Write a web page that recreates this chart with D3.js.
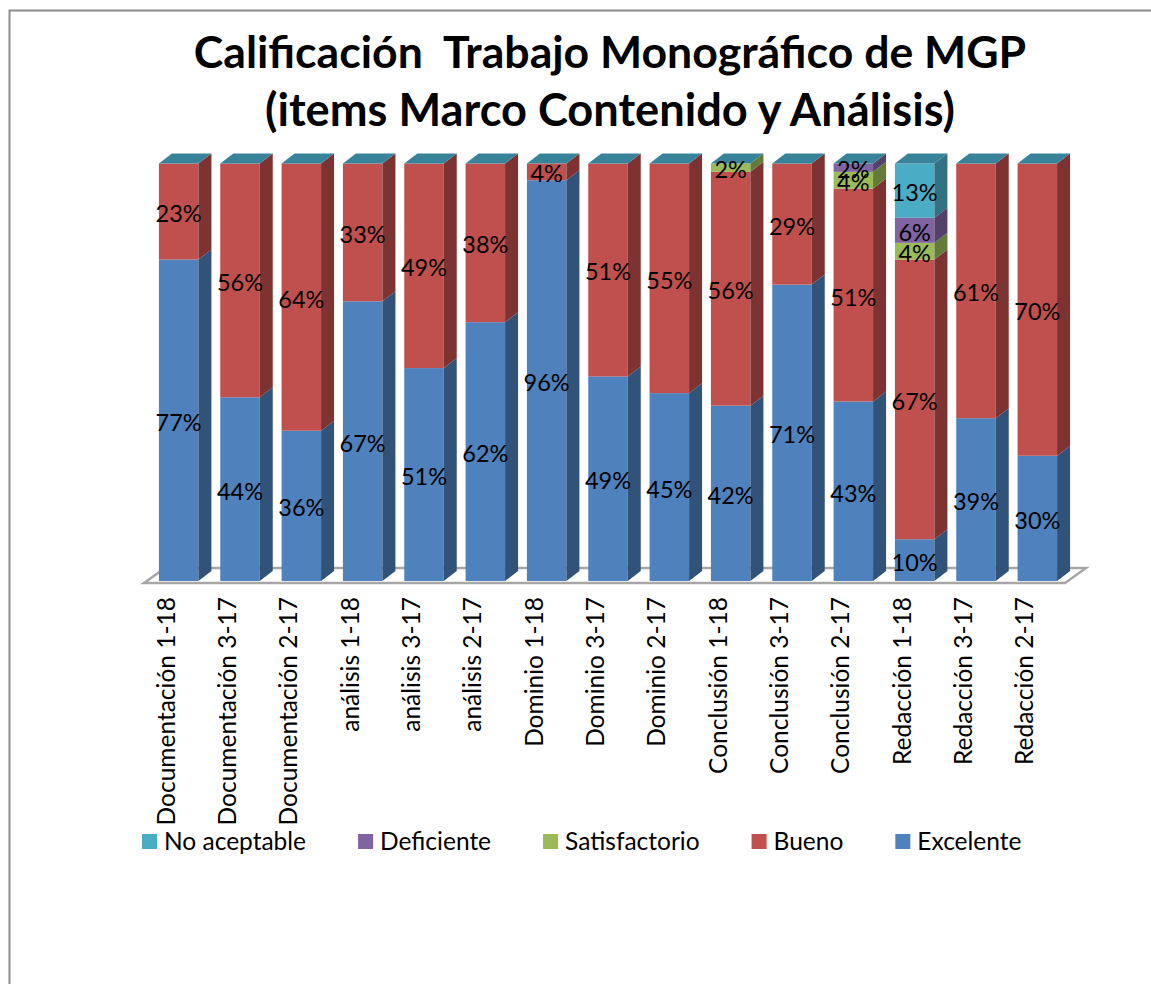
<!DOCTYPE html>
<html>
<head>
<meta charset="utf-8">
<script src="https://cdn.jsdelivr.net/npm/d3@7"></script>
<style>
html, body { margin: 0; padding: 0; background: #fff; overflow: hidden; }
svg { display: block; }
text { font-family: Lato, "Noto Sans", sans-serif; fill: #000; }
</style>
</head>
<body>
<div id="chart"></div>
<script>
const categories = ["Documentación 1-18", "Documentación 3-17", "Documentación 2-17", "análisis 1-18", "análisis 3-17", "análisis 2-17", "Dominio 1-18", "Dominio 3-17", "Dominio 2-17", "Conclusión 1-18", "Conclusión 3-17", "Conclusión 2-17", "Redacción 1-18", "Redacción 3-17", "Redacción 2-17"];
const excelente =     [77, 44, 36, 67, 51, 62, 96, 49, 45, 42, 71, 43, 10, 39, 30];
const bueno =         [23, 56, 64, 33, 49, 38, 4, 51, 55, 56, 29, 51, 67, 61, 70];
const satisfactorio = [0, 0, 0, 0, 0, 0, 0, 0, 0, 2, 0, 4, 4, 0, 0];
const deficiente =    [0, 0, 0, 0, 0, 0, 0, 0, 0, 0, 0, 2, 6, 0, 0];
const noAceptable =   [0, 0, 0, 0, 0, 0, 0, 0, 0, 0, 0, 0, 13, 0, 0];
const seriesNames = ["Excelente", "Bueno", "Satisfactorio", "Deficiente", "No aceptable"];
const seriesValues = [excelente, bueno, satisfactorio, deficiente, noAceptable];
const titleLines = ["Calificación  Trabajo Monográfico de MGP", "(items Marco Contenido y Análisis)"];

const frontColors = ["#4f81bd", "#c0504d", "#9bbb59", "#8064a2", "#4bacc6"];
const sideColors = ["#325379", "#7d3331", "#647a39", "#534169", "#317181"];
const topColor = "#38839a";

const width = 1151, height = 984;
const depthX = 13, depthY = -10;

let svg = d3.select("#chart").append("svg").attr("width", width).attr("height", height);

// chart frame, only left and top show up in the picture
svg.append("path")
	.attr("d", `M9.5,${height}V10.5H${width}`)
	.attr("fill", "none")
	.attr("stroke", "#8c8c8c")
	.attr("stroke-width", 2);

svg.append("g").selectAll("text")
	.data(titleLines).enter()
	.append("text")
	.attr("x", 610)
	.attr("y", (d, i) => 68 + i * 58)
	.attr("text-anchor", "middle")
	.style("font-size", (d, i) => i ? "45.2px" : "44.6px")
	.style("font-weight", "bold")
	.style("white-space", "pre")
	.attr("xml:space", "preserve")
	.text(d => d);

let xScale = d3.scaleBand().domain(categories).range([148, 1068]).paddingInner(0.356).paddingOuter(0.178);
let yScale = d3.scaleLinear().domain([0, 100]).range([581, 163.5]);

// floor of the 3d box
let x0 = 144, x1 = 1065, floorY = 583, floorBackY = 568;
svg.append("path")
	.attr("d", `M${x0},${floorY}L${x0 + 21},${floorBackY}H${x1 + 21}L${x1},${floorY}Z`)
	.attr("fill", "#fff")
	.attr("stroke", "#a6a6a6")
	.attr("stroke-width", 2.5);

let rows = categories.map((c, i) => {
	let row = { category: c };
	seriesNames.forEach((s, k) => { row[s] = seriesValues[k][i]; });
	return row;
});
let stacked = d3.stack().keys(seriesNames)(rows);

let bars = svg.append("g").selectAll("g")
	.data(categories).enter()
	.append("g");

bars.each(function(c, i) {
	let g = d3.select(this);
	let bw = xScale.bandwidth();
	let left = xScale(c), right = left + bw;
	stacked.forEach((layer, k) => {
		let y0 = yScale(layer[i][0]), y1 = yScale(layer[i][1]);
		if (y0 === y1) return;
		g.append("rect")
			.attr("x", left).attr("y", y1)
			.attr("width", bw).attr("height", y0 - y1)
			.attr("fill", frontColors[k]);
		g.append("path")
			.attr("d", `M${right},${y0}L${right + depthX},${y0 + depthY}V${y1 + depthY}L${right},${y1}Z`)
			.attr("fill", sideColors[k]);
	});
	let yTop = yScale(100);
	g.append("path")
		.attr("d", `M${left},${yTop}L${left + depthX},${yTop + depthY}H${right + depthX}L${right},${yTop}Z`)
		.attr("fill", topColor);
});

// value labels
let labels = svg.append("g");
stacked.forEach(layer => {
	labels.selectAll(null)
		.data(layer.filter(d => d[1] > d[0])).enter()
		.append("text")
		.attr("x", d => xScale(d.data.category) + xScale.bandwidth() / 2)
		.attr("y", d => yScale((d[0] + d[1]) / 2) + 10.5)
		.attr("text-anchor", "middle")
		.style("font-size", "23.5px")
		.text(d => (d[1] - d[0]) + "%");
});

// category axis with rotated labels
let xAxis = d3.axisBottom(xScale).tickSize(0);
let axisG = svg.append("g").attr("transform", "translate(0,597)").call(xAxis);
axisG.select(".domain").remove();
axisG.selectAll("text")
	.attr("transform", "translate(-12.5,0) rotate(-90)")
	.attr("x", 0)
	.attr("y", 0)
	.attr("dy", "0.35em")
	.attr("text-anchor", "end")
	.style("font-size", "24.5px")
	.style("font-family", "Lato, 'Noto Sans', sans-serif");

// legend flows left to right, reversed series order
let legendX = 142;
seriesNames.slice().reverse().forEach((name, i) => {
	let color = frontColors[seriesNames.indexOf(name)];
	svg.append("rect")
		.attr("x", legendX).attr("y", 834)
		.attr("width", 15).attr("height", 15)
		.attr("fill", color);
	let t = svg.append("text")
		.attr("x", legendX + 22).attr("y", 850)
		.style("font-size", "24.5px")
		.text(name);
	legendX += 22 + t.node().getComputedTextLength() + 52;
});
</script>
</body>
</html>
